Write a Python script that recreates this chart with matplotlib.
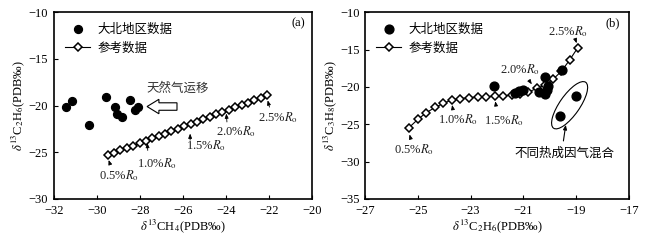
import numpy as np
import matplotlib
matplotlib.use('Agg')
import matplotlib.pyplot as plt
from matplotlib import transforms
from matplotlib.patches import Ellipse, FancyArrow

plt.rcParams['font.family'] = ['Liberation Serif', 'Noto Sans CJK SC']
plt.rcParams['mathtext.fontset'] = 'stix'
plt.rcParams['font.size'] = 9

# (a) 大北地区数据
a_dabei_x = [-31.45, -31.15, -30.35, -29.6, -29.15, -29.05, -28.85, -28.45, -28.25, -28.1]
a_dabei_y = [-20.1, -19.55, -22.05, -19.05, -20.15, -20.95, -21.25, -19.45, -20.45, -20.15]

# (a) 参考数据
a_ref_x = [-29.50, -29.20, -28.91, -28.61, -28.32, -28.02, -27.72, -27.43, -27.13, -26.84,
           -26.54, -26.24, -25.95, -25.65, -25.36, -25.06, -24.76, -24.47, -24.17, -23.88,
           -23.58, -23.28, -22.99, -22.69, -22.40, -22.10]
a_ref_y = [-25.30, -25.04, -24.79, -24.53, -24.28, -24.02, -23.76, -23.51, -23.25, -23.00,
           -22.74, -22.48, -22.23, -21.97, -21.72, -21.46, -21.20, -20.95, -20.69, -20.44,
           -20.18, -19.92, -19.67, -19.41, -19.16, -18.90]

# (b) 大北地区数据
b_dabei_x = [-22.1, -21.3, -21.15, -21.0, -20.42, -20.2, -20.2, -20.08, -20.1, -19.52, -19.0, -19.6]
b_dabei_y = [-19.9, -20.75, -20.6, -20.4, -20.65, -20.95, -18.7, -19.85, -20.4, -17.8, -21.2, -23.95]

# (b) 参考数据
b_ref_x = [-25.35, -25.0, -24.68, -24.35, -24.03, -23.72, -23.4, -23.06, -22.73, -22.41,
           -22.08, -21.76, -21.44, -21.13, -20.82, -20.5, -20.18, -19.87, -19.56, -19.25, -18.95]
b_ref_y = [-25.5, -24.35, -23.45, -22.75, -22.2, -21.75, -21.57, -21.43, -21.35, -21.3,
           -21.25, -21.2, -21.08, -20.95, -20.7, -20.2, -19.75, -18.95, -17.9, -16.4, -14.8]

ro_labels = ['0.5%', '1.0%', '1.5%', '2.0%', '2.5%']
# (label position, arrow tail, arrow head)
a_ro_pos = [((-29.0, -27.55), (-29.37, -26.4), (-29.5, -25.55)),
            ((-27.2, -26.25), (-27.63, -25.1), (-27.67, -23.7)),
            ((-24.95, -24.3), (-25.67, -24.0), (-25.67, -22.7)),
            ((-23.55, -22.8), (-23.95, -22.05), (-24.0, -20.55)),
            ((-21.6, -21.3), (-21.95, -20.45), (-22.1, -19.15))]
b_ro_pos = [((-25.15, -28.4), (-25.24, -27.3), (-25.34, -26.0)),
            ((-23.5, -24.4), (-23.65, -23.4), (-23.72, -22.05)),
            ((-21.75, -24.5), (-22.02, -22.9), (-22.08, -21.55)),
            ((-21.15, -17.7), (-20.85, -18.8), (-20.62, -19.95)),
            ((-19.3, -12.6), (-19.06, -13.35), (-18.95, -14.5))]


def ro_text(s):
    return s + r'$\mathit{R}_\mathrm{o}$'


fig = plt.figure(figsize=(6.49, 2.4), dpi=100)
ax1 = fig.add_axes([0.083, 0.171, 0.398, 0.778])
ax2 = fig.add_axes([0.5624, 0.171, 0.4068, 0.778])

for ax in (ax1, ax2):
    for sp in ax.spines.values():
        sp.set_linewidth(1.2)
    ax.tick_params(direction='in', length=3, width=0.8, top=False, right=False,
                   labelsize=9, pad=4)

arrow_kw = dict(arrowstyle='-|>,head_length=0.3,head_width=0.12', color='black', lw=0.6)

# panel (a)
ax1.scatter(a_dabei_x, a_dabei_y, s=32, color='black', zorder=3, label='大北地区数据')
ax1.plot(a_ref_x, a_ref_y, color='black', lw=0.8, marker='D', ms=4, mfc='white',
         mec='black', mew=1.1, label='参考数据')
ax1.set_xlim(-32, -20)
ax1.set_ylim(-30, -10)
ax1.set_xticks([-32, -30, -28, -26, -24, -22, -20])
ax1.set_yticks([-30, -25, -20, -15, -10])
ax1.set_xlabel(r'$\delta^{13}$CH$_4$(PDB‰)', labelpad=1)
ax1.set_ylabel(r'$\delta^{13}$C$_2$H$_6$(PDB‰)', labelpad=1)
ax1.text(0.945, 0.94, '(a)', transform=ax1.transAxes, ha='center', va='center', fontsize=9)
for lab, (tp, tail, head) in zip(ro_labels, a_ro_pos):
    ax1.text(tp[0], tp[1], ro_text(lab), ha='center', va='center', fontsize=9, color='#222222')
    ax1.annotate('', xy=head, xytext=tail, arrowprops=arrow_kw)
ax1.text(-26.25, -18.2, '天然气运移', ha='center', va='center', fontsize=9, color='#333333')
ax1.add_patch(FancyArrow(-26.28, -20.1, -1.39, 0, width=0.8, head_width=1.55,
                         head_length=0.55, length_includes_head=True,
                         fc='white', ec='black', lw=0.8))
ax1.legend(loc='upper left', frameon=False, fontsize=9, handlelength=2.0,
           labelspacing=0.55, borderaxespad=0.5, handletextpad=0.6, prop={'size': 9})

# panel (b)
ax2.scatter(b_dabei_x, b_dabei_y, s=40, color='black', zorder=3, label='大北地区数据')
ax2.plot(b_ref_x, b_ref_y, color='black', lw=0.8, marker='D', ms=4, mfc='white',
         mec='black', mew=1.1, label='参考数据')
ax2.set_xlim(-27, -17)
ax2.set_ylim(-35, -10)
ax2.set_xticks([-27, -25, -23, -21, -19, -17])
ax2.set_yticks([-35, -30, -25, -20, -15, -10])
ax2.set_xlabel(r'$\delta^{13}$C$_2$H$_6$(PDB‰)', labelpad=1)
ax2.set_ylabel(r'$\delta^{13}$C$_3$H$_8$(PDB‰)', labelpad=1)
ax2.text(0.94, 0.94, '(b)', transform=ax2.transAxes, ha='center', va='center', fontsize=9)
for lab, (tp, tail, head) in zip(ro_labels, b_ro_pos):
    ax2.text(tp[0], tp[1], ro_text(lab), ha='center', va='center', fontsize=9, color='#222222')
    ax2.annotate('', xy=head, xytext=tail, arrowprops=arrow_kw)

# ellipse around mixed-gas points, sized in inches at its data centre
ell_trans = fig.dpi_scale_trans + transforms.ScaledTranslation(-19.25, -22.45, ax2.transData)
ax2.add_patch(Ellipse((0, 0), width=0.56, height=0.2, angle=55, transform=ell_trans,
                      fill=False, ec='black', lw=0.8))
ax2.annotate('', xy=(-19.38, -24.7), xytext=(-19.5, -27.6),
             arrowprops=dict(arrowstyle='-|>,head_length=0.3,head_width=0.12',
                             color='black', lw=0.8))
ax2.text(-19.45, -28.9, '不同热成因气混合', ha='center', va='center', fontsize=9)
ax2.legend(loc='upper left', frameon=False, handlelength=2.0,
           labelspacing=0.55, borderaxespad=0.5, handletextpad=0.6, prop={'size': 9})

fig.savefig('out.png', dpi=100)
